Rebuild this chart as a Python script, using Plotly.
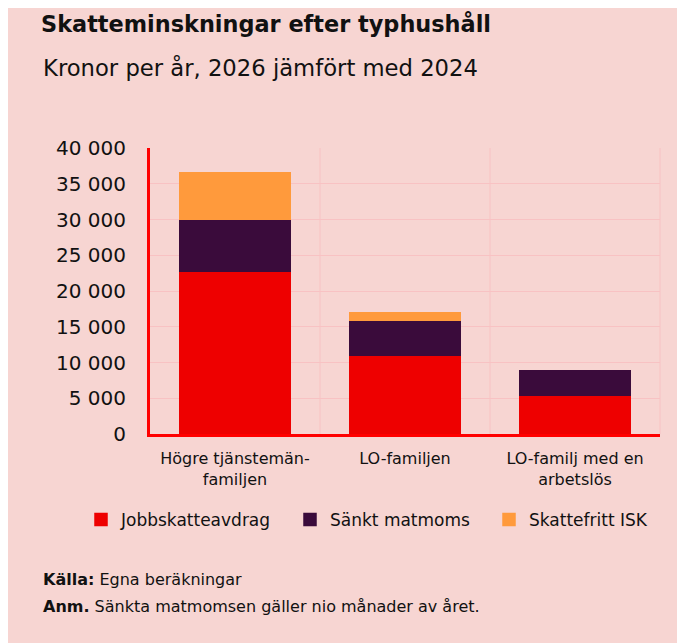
import plotly.graph_objects as go

categories = ["Högre tjänstemän-<br>familjen", "LO-familjen", "LO-familj med en<br>arbetslös"]
series_names = ["Jobbskatteavdrag", "Sänkt matmoms", "Skattefritt ISK"]
jobbskatteavdrag = [22800, 11000, 5400]
sankt_matmoms = [7200, 4900, 3450]
skattefritt_isk = [6500, 1100, 0]
tick_vals = [0, 5000, 10000, 15000, 20000, 25000, 30000, 35000, 40000]
tick_text = ["0", "5 000", "10 000", "15 000", "20 000", "25 000", "30 000", "35 000", "40 000"]

colors = ["#EE0000", "#3A0B3B", "#FF9A3C"]
bg = "#F7D5D2"
grid = "#F8C2C3"
font = "DejaVu Sans"
ink = "#111111"

# page offset of the browser body (8px)
OFF = 8
W, H = 685, 643
PL, PR, PT, PB = 150, 660, 148, 434  # plot area in screenshot coords
PW, PH = PR - PL, PB - PT

def px(x):
    return (x - PL) / PW

def py(y):
    return (PB - y) / PH

legend_ids = ["legend", "legend2", "legend3"]
legend_left = [81, 290, 489]

fig = go.Figure()
for name, vals, c, lid in zip(series_names, [jobbskatteavdrag, sankt_matmoms, skattefritt_isk], colors, legend_ids):
    fig.add_trace(go.Bar(x=categories, y=vals, name=name, legend=lid,
                         marker=dict(color=c, line=dict(width=[1.5 if v > 0 else 0 for v in vals], color=c)),
                         width=0.655))

legend_common = dict(orientation="h", xanchor="left", y=py(520), yanchor="middle",
                     font=dict(size=17, family=font, color=ink),
                     itemwidth=30, bgcolor="rgba(0,0,0,0)")

fig.update_layout(
    barmode="stack",
    width=W, height=H,
    paper_bgcolor=bg, plot_bgcolor=bg,
    margin=dict(l=PL - OFF, r=W - (PR - OFF), t=PT - OFF, b=H - (PB - OFF)),
    font=dict(family=font, color=ink),
    showlegend=True,
    legend=dict(x=px(legend_left[0]), **legend_common),
    legend2=dict(x=px(legend_left[1]), **legend_common),
    legend3=dict(x=px(legend_left[2]), **legend_common),
    title=dict(text="<b>Skatteminskningar efter typhushåll</b>", x=(41 - OFF) / W, xanchor="left",
               y=1 - (24 - OFF) / H, yanchor="middle", font=dict(size=22.4, family=font, color=ink)),
    annotations=[
        dict(text="Kronor per år, 2026 jämfört med 2024", xref="paper", yref="paper",
             x=px(41), y=py(68), xanchor="left", yanchor="middle",
             showarrow=False, font=dict(size=22.7, family=font, color=ink)),
        dict(text="<b>Källa:</b> Egna beräkningar", xref="paper", yref="paper",
             x=px(41), y=py(579), xanchor="left", yanchor="middle",
             showarrow=False, font=dict(size=16, family=font, color=ink)),
        dict(text="<b>Anm.</b> Sänkta matmomsen gäller nio månader av året.", xref="paper", yref="paper",
             x=px(41), y=py(606), xanchor="left", yanchor="middle",
             showarrow=False, font=dict(size=16, family=font, color=ink)),
    ],
)
fig.update_xaxes(showline=True, linecolor="#FF0000", linewidth=3,
                 showgrid=False, ticks="", ticklabelstandoff=8,
                 tickfont=dict(size=16, family=font, color=ink))
fig.update_yaxes(range=[0, 40000], tickvals=tick_vals, ticktext=tick_text,
                 showline=True, linecolor="#FF0000", linewidth=3,
                 showgrid=True, gridcolor=grid, gridwidth=1, zeroline=False,
                 ticks="", ticklabelstandoff=17,
                 tickfont=dict(size=20, family=font, color=ink))

for xv in [1/3, 2/3, 1.0]:
    fig.add_shape(type="line", xref="paper", yref="paper", x0=xv, x1=xv, y0=0, y1=1,
                  line=dict(color=grid, width=1), layer="below")

fig.write_html("out.html")
